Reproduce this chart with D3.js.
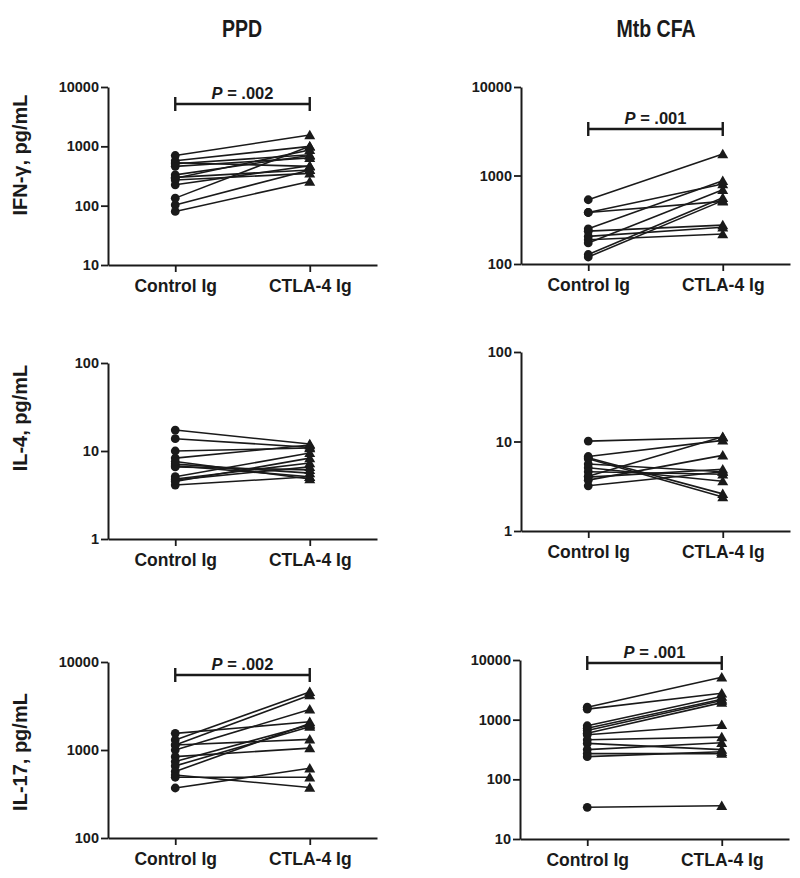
<!DOCTYPE html>
<html>
<head>
<meta charset="utf-8">
<script src="https://cdn.jsdelivr.net/npm/d3@7"></script>
<style>
  html, body { margin: 0; padding: 0; background: #fff; }
  svg { display: block; }
  text { font-family: "Liberation Sans", Arial, sans-serif; fill: #1a1a1a; }
</style>
</head>
<body>
<svg id="chart" width="800" height="878"></svg>
<script>
// ---------- data ----------
const conditions = ["Control Ig", "CTLA-4 Ig"];
const columnTitles = ["PPD", "Mtb CFA"];
const rowTitles = ["IFN-γ, pg/mL", "IL-4, pg/mL", "IL-17, pg/mL"];

// PPD, IFN-γ
const ppdIfnControl = [700, 570, 530, 510, 460, 330, 300, 270, 225, 134, 103, 80, 290];
const ppdIfnCtla4   = [1550, 1000, 460, 720, 640, 700, 400, 350, 470, 1000, 400, 255, 870];
// Mtb CFA, IFN-γ
const mtbIfnControl = [532, 382, 382, 250, 235, 205, 188, 173, 128, 120];
const mtbIfnCtla4   = [1750, 800, 510, 870, 275, 260, 218, 690, 560, 520];
// PPD, IL-4
const ppdIl4Control = [17.3, 13.8, 10, 8.3, 7.1, 6.8, 6.6, 5.1, 4.8, 4.5, 4.1, 4.7, 7.6];
const ppdIl4Ctla4   = [12, 11, 10.8, 11.7, 5.6, 5.1, 6.1, 9.5, 7.3, 8.3, 5.1, 6.6, 4.8];
// Mtb CFA, IL-4
const mtbIl4Control = [10.1, 6.8, 6.6, 6.4, 5.6, 5.1, 4.6, 4.1, 3.7, 3.2, 4.0];
const mtbIl4Ctla4   = [11.1, 10.3, 2.6, 2.4, 4.6, 3.6, 4.3, 11.3, 7.0, 4.6, 4.9];
// PPD, IL-17
const ppdIl17Control = [1545, 1300, 1140, 1000, 1140, 840, 740, 660, 570, 520, 490, 370];
const ppdIl17Ctla4   = [2090, 4570, 4200, 2890, 1320, 1050, 1920, 1840, 2000, 375, 490, 620];
// Mtb CFA, IL-17
const mtbIl17Control = [1620, 1500, 790, 720, 660, 590, 560, 460, 400, 315, 270, 240, 34];
const mtbIl17Ctla4   = [5130, 2770, 2440, 2200, 2090, 1930, 820, 510, 315, 410, 270, 290, 36];

// tick labels
const ticksIfnPpd = [10, 100, 1000, 10000];
const ticksIfnMtb = [100, 1000, 10000];
const ticksIl4 = [1, 10, 100];
const ticksIl17Ppd = [100, 1000, 10000];
const ticksIl17Mtb = [10, 100, 1000, 10000];

// p-value labels
const pLabels = [".002", ".001", null, null, ".002", ".001"];

// ---------- layout ----------
const panels = [
  { ctrl: ppdIfnControl, ctla: ppdIfnCtla4, ticks: ticksIfnPpd, left: 108, top: 87, bottom: 265, p: pLabels[0], bracketY: 104, textY: 99 },
  { ctrl: mtbIfnControl, ctla: mtbIfnCtla4, ticks: ticksIfnMtb, left: 521, top: 87, bottom: 264, p: pLabels[1], bracketY: 129, textY: 124 },
  { ctrl: ppdIl4Control, ctla: ppdIl4Ctla4, ticks: ticksIl4, left: 108, top: 363, bottom: 539, p: pLabels[2] },
  { ctrl: mtbIl4Control, ctla: mtbIl4Ctla4, ticks: ticksIl4, left: 521, top: 352, bottom: 531, p: pLabels[3] },
  { ctrl: ppdIl17Control, ctla: ppdIl17Ctla4, ticks: ticksIl17Ppd, left: 108, top: 662, bottom: 838, p: pLabels[4], bracketY: 675, textY: 670 },
  { ctrl: mtbIl17Control, ctla: mtbIl17Ctla4, ticks: ticksIl17Mtb, left: 520, top: 660, bottom: 839, p: pLabels[5], bracketY: 663, textY: 658 }
];
const panelWidth = 269;
const ink = "#1a1a1a";

const svg = d3.select("#chart");

// column titles (condensed look)
[[0, 242], [1, 656]].forEach(([i, cx]) => {
  svg.append("text")
    .attr("transform", `translate(${cx},37) scale(0.85,1)`)
    .attr("text-anchor", "middle")
    .style("font-size", "23px").style("font-weight", "bold")
    .text(columnTitles[i]);
});

// row titles
[[0, 155], [1, 418], [2, 752]].forEach(([i, cy]) => {
  svg.append("text")
    .attr("transform", `translate(27,${cy}) rotate(-90)`)
    .attr("text-anchor", "middle")
    .style("font-size", "20px").style("font-weight", "bold")
    .text(rowTitles[i]);
});

const triangle = d3.symbol().type(d3.symbolTriangle).size(52);

panels.forEach(pn => {
  const g = svg.append("g");
  const x = d3.scalePoint().domain(conditions).range([pn.left, pn.left + panelWidth]).padding(0.5);
  const lo = d3.min(pn.ticks), hi = d3.max(pn.ticks);
  const y = d3.scaleLog().domain([lo, hi]).range([pn.bottom, pn.top]);

  // y axis
  const ya = g.append("g")
    .attr("transform", `translate(${pn.left},0)`)
    .call(d3.axisLeft(y).tickValues(pn.ticks).tickFormat(d3.format("d")).tickSize(7).tickSizeOuter(0).tickPadding(2));
  // x axis
  const xa = g.append("g")
    .attr("transform", `translate(0,${pn.bottom})`)
    .call(d3.axisBottom(x).tickSize(7).tickSizeOuter(0).tickPadding(8));

  [ya, xa].forEach(a => {
    a.select(".domain").attr("stroke", ink).attr("stroke-width", 2);
    a.selectAll(".tick line").attr("stroke", ink).attr("stroke-width", 1.8);
  });
  ya.selectAll(".tick text").style("font-size", "14.5px").style("font-weight", "bold").attr("fill", ink);
  xa.selectAll(".tick text").style("font-size", "17.5px").style("font-weight", "bold").attr("fill", ink);

  // paired lines
  const pairs = pn.ctrl.map((c, i) => [c, pn.ctla[i]]);
  g.append("g").selectAll("line").data(pairs).join("line")
    .attr("x1", x(conditions[0])).attr("x2", x(conditions[1]))
    .attr("y1", d => y(d[0])).attr("y2", d => y(d[1]))
    .attr("stroke", ink).attr("stroke-width", 1.6);

  // markers
  g.append("g").selectAll("circle").data(pn.ctrl).join("circle")
    .attr("cx", x(conditions[0])).attr("cy", d => y(d)).attr("r", 4.4)
    .attr("fill", ink);
  g.append("g").selectAll("path").data(pn.ctla).join("path")
    .attr("d", triangle)
    .attr("transform", d => `translate(${x(conditions[1])},${y(d) + 1})`)
    .attr("fill", ink);

  // p-value bracket
  if (pn.p) {
    const x1 = x(conditions[0]), x2 = x(conditions[1]);
    const b = g.append("g").attr("stroke", ink).attr("stroke-width", 2.4);
    b.append("line").attr("x1", x1).attr("x2", x2).attr("y1", pn.bracketY).attr("y2", pn.bracketY);
    b.append("line").attr("x1", x1).attr("x2", x1).attr("y1", pn.bracketY - 7).attr("y2", pn.bracketY + 7);
    b.append("line").attr("x1", x2).attr("x2", x2).attr("y1", pn.bracketY - 7).attr("y2", pn.bracketY + 7);
    const t = g.append("text")
      .attr("x", (x1 + x2) / 2).attr("y", pn.textY)
      .attr("text-anchor", "middle")
      .style("font-size", "16.5px").style("font-weight", "bold");
    t.append("tspan").style("font-style", "italic").text("P");
    t.append("tspan").text(" = " + pn.p);
  }
});
</script>
</body>
</html>
